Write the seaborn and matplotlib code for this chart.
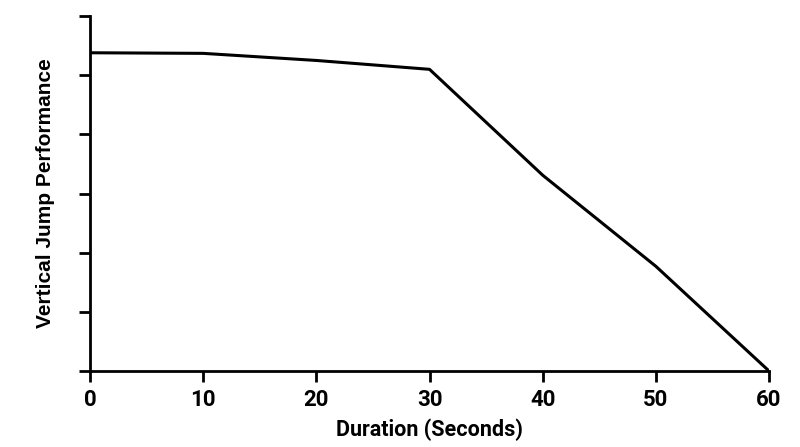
import matplotlib
matplotlib.use('Agg')
import matplotlib.pyplot as plt
import seaborn as sns
import pandas as pd

# --- Data ---
duration = [0, 10, 20, 30, 40, 50, 60]
performance = [5.38, 5.37, 5.25, 5.10, 3.31, 1.77, 0.0]
x_ticks = [0, 10, 20, 30, 40, 50, 60]
y_ticks = [0, 1, 2, 3, 4, 5, 6]

df = pd.DataFrame({'Duration': duration, 'Performance': performance})

sns.set_style('ticks')
plt.rcParams['font.family'] = ['Roboto', 'DejaVu Sans']
plt.rcParams['text.color'] = 'black'
plt.rcParams['axes.labelcolor'] = 'black'
plt.rcParams['xtick.color'] = 'black'
plt.rcParams['ytick.color'] = 'black'

fig = plt.figure(figsize=(8, 4.47), dpi=100)
ax = fig.add_axes([0.1125, 0.17, 0.8488, 0.794])

sns.lineplot(data=df, x='Duration', y='Performance', ax=ax,
             color='black', linewidth=2.2)

ax.set_xlim(0, 60)
ax.set_ylim(0, 6)
ax.set_xticks(x_ticks)
ax.set_yticks(y_ticks)
ax.set_yticklabels([])
ax.tick_params(axis='both', direction='out', length=8, width=2, color='black',
               labelcolor='black')
ax.tick_params(axis='x', labelsize=16, pad=5)
for lbl in ax.get_xticklabels():
    lbl.set_fontweight('bold')

for side in ['left', 'bottom']:
    ax.spines[side].set_linewidth(2)
    ax.spines[side].set_color('black')
sns.despine(ax=ax)

ax.set_xlabel('Duration (Seconds)', fontsize=15.5, fontweight='bold',
              labelpad=5, color='black')
ax.set_ylabel('Vertical Jump Performance', fontsize=15, fontweight='bold',
              family=['Liberation Sans', 'DejaVu Sans'], labelpad=14,
              color='black')

fig.savefig('out.png', dpi=100)
